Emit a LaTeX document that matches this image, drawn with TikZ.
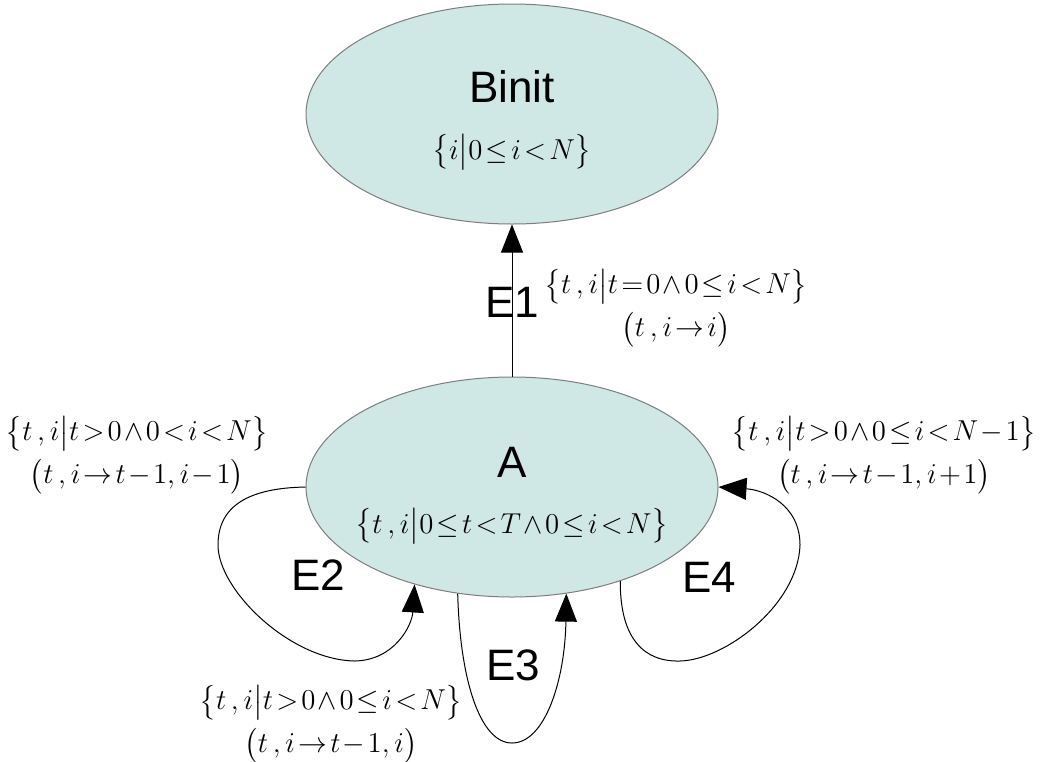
\documentclass[tikz,border=0pt]{standalone}
\usepackage{amsmath,amssymb}
\usepackage{fontspec}
\setsansfont{Liberation Sans}
\usepackage{tikz}
\usetikzlibrary{arrows.meta,shapes.geometric}
\definecolor{statefill}{RGB}{207,231,229}
\definecolor{stateline}{RGB}{125,125,125}
\thickmuskip=2mu plus 1mu
\medmuskip=1.5mu plus 1mu

\begin{document}
\begin{tikzpicture}[x=0.5pt, y=-0.5pt,
  state/.style={draw=stateline, line width=0.5pt, ellipse, fill=statefill, minimum width=206pt, minimum height=110pt, inner sep=0pt},
  stname/.style={anchor=base, font=\sffamily\fontsize{22}{26}\selectfont, inner sep=0pt},
  setlabel/.style={font=\fontsize{14.5}{21.5}\selectfont, align=center, inner sep=0pt},
  trans/.style={-{Triangle[length=14pt,width=11pt]}, line width=0.5pt}]
  \useasboundingbox (0,0) rectangle (1042,761);
  \node[state] (binit) at (512,114) {};
  \node[state] (a) at (512,487) {};
  \node[stname] (binitname) at (512,102) {Binit};
  \node[setlabel] (binitset) at (512,152) {$\bigl\{i\big|0\leq i<N\bigr\}$};
  \node[stname] (aname) at (512,477) {A};
  \node[setlabel] (aset) at (512,526) {$\bigl\{t\,,i\big|0\leq t<T\wedge 0\leq i<N\bigr\}$};
  \draw[trans] (a) -- (binit);
  \node[stname] (e1) at (512,317) {E1};
  \node[setlabel] (e1set) at (676,308) {$\bigl\{t\,,i\big|t=0\wedge 0\leq i<N\bigr\}$\\$\bigl(t\,,i\to i\bigr)$};
  \draw[trans] (a.180) .. controls (250,488) and (218,505) .. (218,545)
    .. controls (218,590) and (290,660) .. (355,661)
    .. controls (395,660) and (412,625) .. (a.225);
  \node[stname] (e2) at (318,590) {E2};
  \node[setlabel] (e2set) at (137,455) {$\bigl\{t\,,i\big|t>0\wedge 0<i<N\bigr\}$\\$\bigl(t\,,i\to t-1,i-1\bigr)$};
  \draw[trans] (a.243) .. controls (460,680) and (480,743) .. (512,743)
    .. controls (545,743) and (565,680) .. (a.297);
  \node[stname] (e3) at (513,680) {E3};
  \node[setlabel] (e3set) at (331,724) {$\bigl\{t\,,i\big|t>0\wedge 0\leq i<N\bigr\}$\\$\bigl(t\,,i\to t-1,i\bigr)$};
  \draw[trans] (a.319) .. controls (620,640) and (645,662) .. (680,661)
    .. controls (725,660) and (798,605) .. (800,545)
    .. controls (800,505) and (765,490) .. (a.0);
  \node[stname] (e4) at (709,592) {E4};
  \node[setlabel] (e4set) at (884,455) {$\bigl\{t\,,i\big|t>0\wedge 0\leq i<N-1\bigr\}$\\$\bigl(t\,,i\to t-1,i+1\bigr)$};
\end{tikzpicture}
\end{document}
